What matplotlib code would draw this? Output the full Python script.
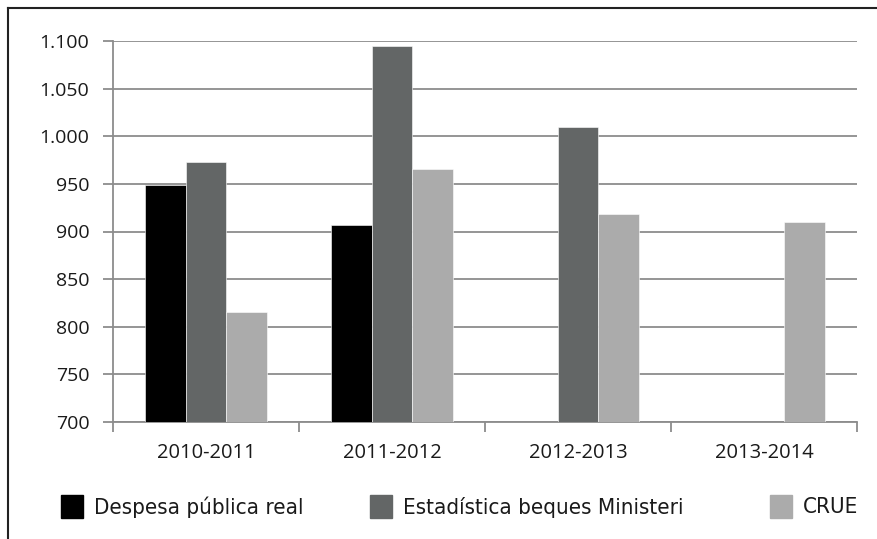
import matplotlib.pyplot as plt
from matplotlib.patches import Rectangle
from matplotlib.lines import Line2D
import numpy as np

# curs academics i series (euros)
cursos = ['2010-2011', '2011-2012', '2012-2013', '2013-2014']
series = ['Despesa pública real', 'Estadística beques Ministeri', 'CRUE']
despesa = [949, 907, np.nan, np.nan]
ministeri = [973, 1095, 1010, np.nan]
crue = [816, 966, 918, 910]
yticks = [700, 750, 800, 850, 900, 950, 1000, 1050, 1100]
ylabels = ['700', '750', '800', '850', '900', '950', '1.000', '1.050', '1.100']
colors = ['#000000', '#636666', '#ababab']

W, H = 877, 539
fig = plt.figure(figsize=(W / 100, H / 100), dpi=100)
ax = fig.add_axes([113 / W, 1 - 422 / H, (857 - 113) / W, (422 - 41) / H])

x = np.arange(len(cursos))
bw = 0.218
for i, (vals, c) in enumerate(zip([despesa, ministeri, crue], colors)):
    v = np.array(vals, dtype=float)
    ok = ~np.isnan(v)
    ax.bar(x[ok] + (i - 1) * bw, v[ok] - 700, bw, bottom=700, color=c,
           edgecolor='white', linewidth=0.4, zorder=3)

gridc = '#8c8c8c'
ax.set_ylim(700, 1100)
ax.set_xlim(-0.5, 3.5)
ax.set_yticks(yticks)
ax.set_yticklabels(ylabels)
ax.yaxis.grid(True, color=gridc, linewidth=1.3)
ax.set_axisbelow(True)
for s in ['top', 'right']:
    ax.spines[s].set_visible(False)
for s in ['left', 'bottom']:
    ax.spines[s].set_color(gridc)
    ax.spines[s].set_linewidth(1.3)

ax.set_xticks(np.arange(-0.5, 4, 1))
ax.set_xticklabels([])
ax.set_xticks(x, minor=True)
ax.set_xticklabels(cursos, minor=True)
ax.tick_params(axis='x', which='major', length=7, width=1.3, color=gridc)
ax.tick_params(axis='x', which='minor', length=0, pad=15, labelsize=14.5)
ax.tick_params(axis='y', length=7, width=1.3, color=gridc, pad=10, labelsize=14)
for lab in ax.get_xticklabels(minor=True) + ax.get_yticklabels():
    lab.set_family(['Open Sans', 'DejaVu Sans'])
    lab.set_color('#1a1a1a')

# llegenda
sq_x = [61, 370, 770]
for sx, lab, c in zip(sq_x, series, colors):
    fig.patches.append(Rectangle((sx / W, 1 - 518 / H), 22 / W, 23 / H,
                                 transform=fig.transFigure, color=c))
    fig.text((sx + 33) / W, 1 - 507 / H, lab, va='center', ha='left',
             fontsize=16, color='#1a1a1a',
             family=['Liberation Sans Narrow', 'DejaVu Sans'], stretch='condensed')

# marc exterior
fig.add_artist(Line2D([8 / W, 8 / W], [0, 1 - 8 / H], color='#222222', lw=1.5,
                      transform=fig.transFigure))
fig.add_artist(Line2D([8 / W, 1], [1 - 8 / H, 1 - 8 / H], color='#222222', lw=1.5,
                      transform=fig.transFigure))

fig.savefig('out.png', dpi=100, facecolor='white')
